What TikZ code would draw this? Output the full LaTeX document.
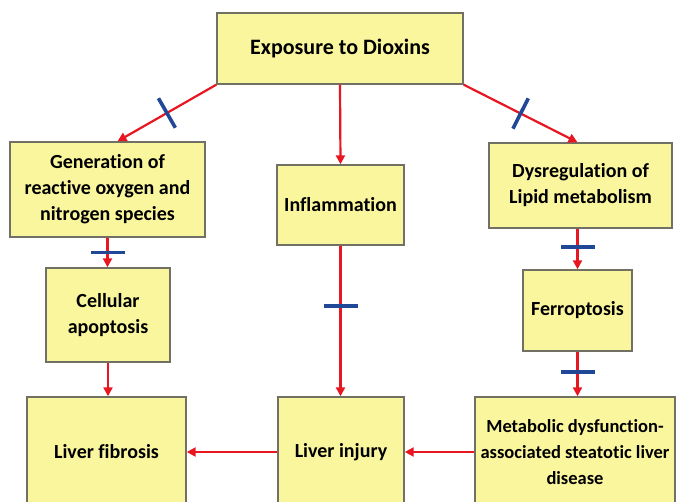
\documentclass[tikz,border=0pt]{standalone}
\usepackage{fontspec}
\setmainfont{Carlito}[Ligatures=NoCommon]
\usetikzlibrary{arrows.meta}
\definecolor{boxfill}{RGB}{250,246,158}
\definecolor{boxline}{RGB}{112,112,100}
\definecolor{arrred}{RGB}{232,22,32}
\definecolor{barblue}{RGB}{32,72,150}
\tikzset{
  pbox/.style={draw=boxline, line width=1.4pt, fill=boxfill, align=center,
    inner sep=2pt, font=\bfseries\fontsize{20}{26}\selectfont},
  act/.style={draw=arrred, line width=2.2pt, -{Triangle[length=9pt,width=9pt]}},
  inhib/.style={sloped, fill=barblue, inner sep=0pt, minimum width=3.6pt,
    minimum height=34pt}
}
\begin{document}
\begin{tikzpicture}[x=1pt,y=-1pt]%
\useasboundingbox (0,0) rectangle (676,502);
\clip (0,0) rectangle (676,502);
% boxes, placed at pixel centres of the figure
\node[pbox, minimum width=246pt, minimum height=71pt, font=\bfseries\fontsize{22}{26}\selectfont] (expo) at (340,48.5) {Exposure to Dioxins};
\node[pbox, minimum width=195pt, minimum height=95pt] (ros) at (107.5,189.5) {Generation of\\reactive oxygen and\\nitrogen species};
\node[pbox, minimum width=127pt, minimum height=80pt] (infl) at (340.5,205) {Inflammation};
\node[pbox, minimum width=183pt, minimum height=85pt] (lipid) at (580.5,185.5) {Dysregulation of\\Lipid metabolism};
\node[pbox, minimum width=124pt, minimum height=94pt] (apop) at (108,315) {Cellular\\apoptosis};
\node[pbox, minimum width=109pt, minimum height=81pt] (ferro) at (577.5,310.5) {Ferroptosis};
\node[pbox, minimum width=159pt, minimum height=110pt] (fibro) at (106.5,452) {Liver fibrosis};
\node[pbox, minimum width=126pt, minimum height=110pt] (injury) at (341,452) {Liver injury};
\node[pbox, minimum width=200pt, minimum height=110pt, font=\bfseries\fontsize{18.5}{26}\selectfont] (masld) at (575,452) {Metabolic dysfunction-\\associated steatotic liver\\disease};
% connectors
\draw[act] (expo.south west) -- ([xshift=10pt]ros.north) node[inhib, pos=.5] {};
\draw[act] (expo.south) -- (infl.north);
\draw[act] (expo.south east) -- ([xshift=-3pt]lipid.north) node[inhib, pos=.5] {};
\draw[act] (ros.south) -- (ros.south |- apop.north) node[inhib, pos=.5] {};
\draw[act] (apop.south) -- (apop.south |- fibro.north);
\draw[act] (infl.south) -- (infl.south |- injury.north) node[inhib, pos=.4] {};
\draw[act] (ferro.north |- lipid.south) -- (ferro.north) node[inhib, pos=.45] {};
\draw[act] (ferro.south) -- (ferro.south |- masld.north) node[inhib, pos=.45] {};
\draw[act] (masld.west) -- (injury.east);
\draw[act] (injury.west) -- (fibro.east);
\end{tikzpicture}
\end{document}
